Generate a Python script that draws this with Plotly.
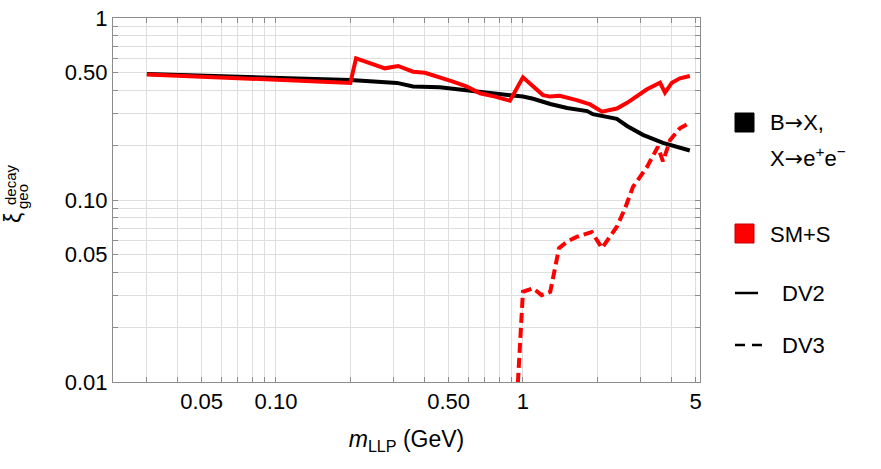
import plotly.graph_objects as go

# B->X, X->e+e-  (DV2)
bx_dv2_mass = [0.03, 0.2, 0.309, 0.359, 0.461, 0.599, 0.715, 0.911, 1.0, 1.10,
               1.29, 1.51, 1.82, 1.92, 2.40, 2.64, 3.06, 3.69, 4.74]
bx_dv2_xi = [0.492, 0.456, 0.44, 0.42, 0.416, 0.40, 0.39, 0.374, 0.37, 0.36,
             0.337, 0.32, 0.308, 0.296, 0.279, 0.255, 0.228, 0.206, 0.187]

# SM+S (DV2)
sms_dv2_mass = [0.03, 0.2, 0.211, 0.276, 0.312, 0.359, 0.401, 0.453, 0.521, 0.593,
                0.670, 0.771, 0.886, 1.0, 1.205, 1.29, 1.41, 1.65, 1.87, 2.09,
                2.40, 2.64, 2.98, 3.18, 3.59, 3.76, 4.01, 4.32, 4.74]
sms_dv2_xi = [0.49, 0.44, 0.60, 0.529, 0.545, 0.507, 0.50, 0.476, 0.447, 0.42,
              0.386, 0.37, 0.351, 0.472, 0.377, 0.37, 0.374, 0.354, 0.335, 0.306,
              0.318, 0.342, 0.385, 0.406, 0.441, 0.389, 0.441, 0.466, 0.48]

# SM+S (DV3)
sms_dv3_mass = [0.954, 1.0, 1.10, 1.19, 1.29, 1.40, 1.51, 1.65, 1.90, 2.09,
                2.40, 2.59, 2.79, 3.18, 3.52, 3.69, 3.94, 4.32, 4.74]
sms_dv3_xi = [0.0099, 0.0313, 0.0327, 0.030, 0.0313, 0.0544, 0.0591, 0.0627, 0.0667, 0.0544,
              0.0713, 0.0898, 0.118, 0.152, 0.196, 0.163, 0.213, 0.248, 0.266]

x_ticks = [0.03, 0.04, 0.05, 0.06, 0.07, 0.08, 0.09,
           0.1, 0.2, 0.3, 0.4, 0.5, 0.6, 0.7, 0.8, 0.9, 1, 2, 3, 4, 5]
x_labels = {0.05: "0.05", 0.1: "0.10", 0.5: "0.50", 1: "1", 5: "5"}
y_ticks = [0.01, 0.02, 0.03, 0.04, 0.05, 0.06, 0.07, 0.08, 0.09,
           0.1, 0.2, 0.3, 0.4, 0.5, 0.6, 0.7, 0.8, 0.9, 1]
y_labels = {0.01: "0.01", 0.05: "0.05", 0.1: "0.10", 0.5: "0.50", 1: "1"}

W, H = 881, 469
L, R, T, B = 113, 181, 18, 87
PW, PH = W - L - R, H - T - B
FONT = "Liberation Sans, Arial, sans-serif"
ARROW = "<span style='font-family:DejaVu Sans'>→</span>"


def px(x):
    return (x - L) / PW


def py(y):
    return (H - B - y) / PH


fig = go.Figure()
fig.add_trace(go.Scatter(x=bx_dv2_mass, y=bx_dv2_xi, mode="lines",
                         line=dict(color="black", width=4), showlegend=False))
fig.add_trace(go.Scatter(x=sms_dv2_mass, y=sms_dv2_xi, mode="lines",
                         line=dict(color="#ff0000", width=4), showlegend=False))
fig.add_trace(go.Scatter(x=sms_dv3_mass, y=sms_dv3_xi, mode="lines",
                         line=dict(color="#ff0000", width=4, dash="10px,5px"),
                         showlegend=False))

axis_common = dict(
    type="log", showgrid=True, gridcolor="#dedede", gridwidth=1,
    showline=True, linecolor="#8c8c8c", linewidth=1, mirror="allticks",
    ticks="inside", ticklen=5, tickcolor="#8c8c8c", automargin=False,
    tickfont=dict(family=FONT, size=22, color="black"), zeroline=False,
)

fig.update_xaxes(
    **axis_common, range=[-1.66, 0.717],
    tickvals=x_ticks, ticktext=[x_labels.get(v, "") for v in x_ticks],
    title=dict(text="<i>m</i><sub>LLP</sub> (GeV)", standoff=17,
               font=dict(family=FONT, size=23, color="black")),
)
fig.update_yaxes(
    **axis_common, range=[-2, 0],
    tickvals=y_ticks, ticktext=[y_labels.get(v, "") for v in y_ticks],
)

# y-axis label built from pieces so the super/subscript stack
ann = [
    dict(text="ξ", x=px(13), y=py(218), font=dict(size=23)),
    dict(text="decay", x=px(10), y=py(185), font=dict(size=15)),
    dict(text="geo", x=px(22), y=py(197), font=dict(size=15)),
]
for a in ann:
    a.update(xref="paper", yref="paper", showarrow=False, textangle=-90,
             xanchor="center", yanchor="middle")
    a["font"].update(family=FONT, color="black")

legend_text = [
    ("B" + ARROW + "X,", 768, 122),
    ("X" + ARROW + "e<sup>+</sup>e<sup>−</sup>", 768, 157),
    ("SM+S", 768, 234),
    ("DV2", 780, 293),
    ("DV3", 780, 345),
]
for txt, x0, y0 in legend_text:
    ann.append(dict(text=txt, x=px(x0), y=py(y0), xref="paper", yref="paper",
                    showarrow=False, xanchor="left", yanchor="middle",
                    font=dict(family=FONT, size=22, color="black")))

shapes = [
    dict(type="rect", x0=px(735), x1=px(754), y0=py(132), y1=py(113),
         fillcolor="black", line=dict(color="black", width=1)),
    dict(type="rect", x0=px(735), x1=px(754), y0=py(243), y1=py(224),
         fillcolor="#ff0000", line=dict(color="#c00000", width=1)),
    dict(type="line", x0=px(735), x1=px(758), y0=py(293), y1=py(293),
         line=dict(color="black", width=2.5)),
    dict(type="line", x0=px(735), x1=px(762), y0=py(345), y1=py(345),
         line=dict(color="black", width=2.5, dash="10px,7px")),
]
for s in shapes:
    s.update(xref="paper", yref="paper")

fig.update_layout(
    width=W, height=H,
    margin=dict(l=L, r=R, t=T, b=B, autoexpand=False),
    plot_bgcolor="white", paper_bgcolor="white",
    annotations=ann, shapes=shapes, showlegend=False,
)

# drop the browser's default body margin so the figure sits at the page corner
fig.write_html("out.html", config={"displayModeBar": False},
               post_script="document.body.style.margin='0';")
